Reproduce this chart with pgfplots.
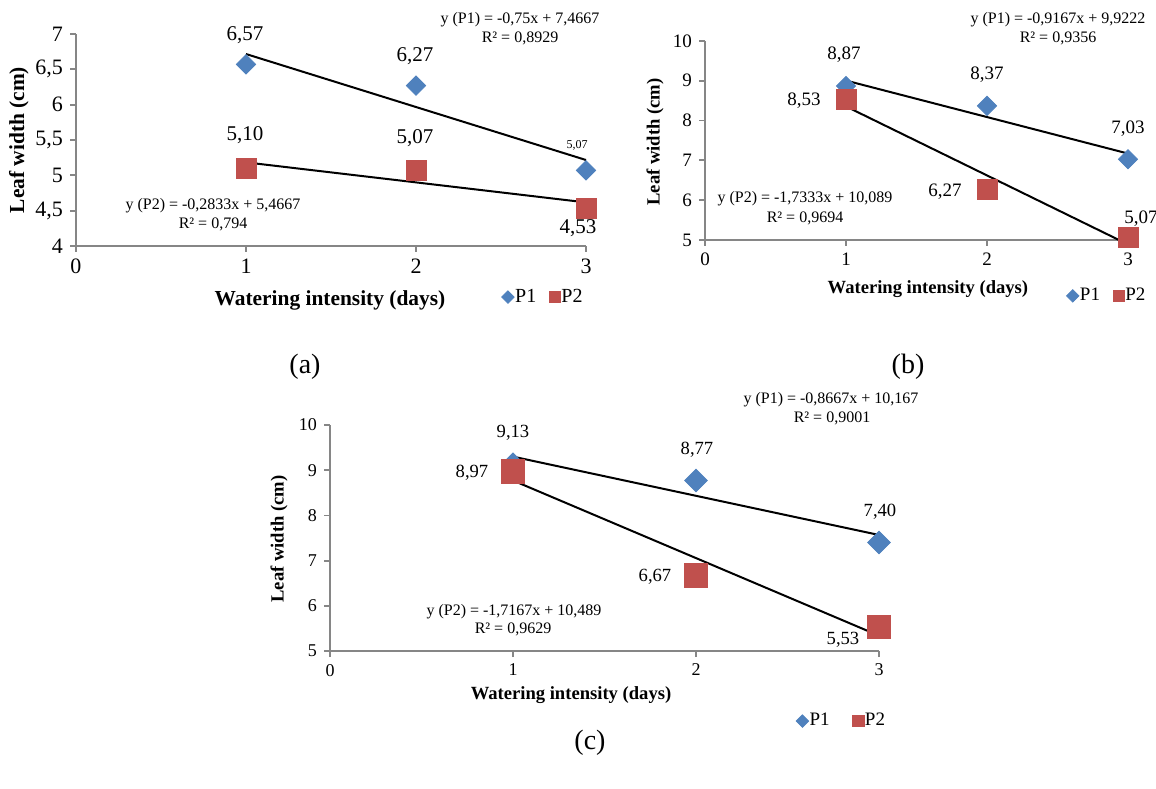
\documentclass[border=0pt]{standalone}
\usepackage{pgfplots}
\pgfplotsset{compat=1.18}
\usepackage{fontspec}
\setmainfont{Liberation Serif}

\definecolor{pone}{HTML}{4F81BD}
\definecolor{ptwo}{HTML}{C0504D}
\definecolor{axgray}{HTML}{868686}

\pgfplotsset{
  panel/.style={
    scale only axis,
    anchor=south west,
    axis lines*=left,
    axis line style={axgray, line width=0.9pt},
    tick style={axgray, line width=0.9pt},
    tick align=outside,
    major tick length=3pt,
    xmin=0, xmax=3, xtick={0,1,2,3}, xticklabels={0,1,2,3},
    clip=false,
    legend columns=2,
    legend cell align=left,
    legend style={draw=none, fill=none, inner sep=0pt,
      nodes={inner sep=0.5pt}},
    legend image code/.code={\draw[##1] plot coordinates {(0pt,0pt)};},
    xlabel={Watering intensity (days)},
    ylabel={Leaf width (cm)},
  },
  p1/.style={only marks, mark=square*, color=pone,
    mark options={rotate=45, fill=pone, draw=pone},
    legend image post style={mark size=2.2pt}},
  p2/.style={only marks, mark=square*, color=ptwo,
    mark options={fill=ptwo, draw=ptwo},
    legend image post style={mark size=2.8pt}},
  trend/.style={black, line width=1pt, forget plot},
}

\begin{document}
\begin{tikzpicture}[x=0.5pt, y=0.5pt]
\useasboundingbox (0,0) rectangle (1156,788);

% (a)
\begin{axis}[panel,
  at={(38pt,271pt)}, width=255pt, height=106pt,
  ymin=4, ymax=7, ytick={4,4.5,5,5.5,6,6.5,7},
  yticklabels={4,{4,5},5,{5,5},6,{6,5},7},
  tick label style={font=\fontsize{11}{13}\selectfont},
  xlabel style={font=\fontsize{10.7}{13}\selectfont\bfseries, at={(axis description cs:0.498,-0.255)}, anchor=center},
  ylabel style={font=\fontsize{10.7}{13}\selectfont\bfseries, at={(axis description cs:-0.112,0.5)}, anchor=center},
  legend style={font=\fontsize{10}{12}\selectfont, at={(axis description cs:0.915,-0.241)}, anchor=center,
    /tikz/every even column/.append style={column sep=6pt}},
]
\addplot[p1, mark size=3.4pt] coordinates {(1,6.57) (2,6.27) (3,5.07)};
\addplot[p2, mark size=5pt] coordinates {(1,5.10) (2,5.07) (3,4.53)};
\addplot[trend] coordinates {(1,6.7167) (3,5.2167)};
\addplot[trend] coordinates {(1,5.1834) (3,4.6168)};
\legend{P1,P2}
\end{axis}

% (b)
\begin{axis}[panel,
  at={(352.5pt,274pt)}, width=211.5pt, height=99.5pt,
  ymin=5, ymax=10, ytick={5,6,7,8,9,10},
  yticklabels={5,6,7,8,9,10},
  tick label style={font=\fontsize{9.5}{11}\selectfont},
  xlabel style={font=\fontsize{9.3}{11}\selectfont\bfseries, at={(axis description cs:0.527,-0.246)}, anchor=center},
  ylabel style={font=\fontsize{9.3}{11}\selectfont\bfseries, at={(axis description cs:-0.118,0.492)}, anchor=center},
  legend style={font=\fontsize{9.5}{11}\selectfont, at={(axis description cs:0.949,-0.281)}, anchor=center,
    /tikz/every even column/.append style={column sep=6pt}},
]
\addplot[p1, mark size=3.4pt] coordinates {(1,8.87) (2,8.37) (3,7.03)};
\addplot[p2, mark size=5pt] coordinates {(1,8.53) (2,6.27) (3,5.07)};
\addplot[trend] coordinates {(1,9.0055) (3,7.1721)};
\addplot[trend] coordinates {(1,8.3557) (2.936,5)};
\legend{P1,P2}
\end{axis}

% (c)
\begin{axis}[panel,
  at={(165pt,68.5pt)}, width=274.5pt, height=113pt,
  ymin=5, ymax=10, ytick={5,6,7,8,9,10},
  yticklabels={5,6,7,8,9,10},
  tick label style={font=\fontsize{9}{11}\selectfont},
  xlabel style={font=\fontsize{9.3}{11}\selectfont\bfseries, at={(axis description cs:0.439,-0.195)}, anchor=center},
  ylabel style={font=\fontsize{9.3}{11}\selectfont\bfseries, at={(axis description cs:-0.093,0.496)}, anchor=center},
  legend style={font=\fontsize{9.5}{11}\selectfont, at={(axis description cs:0.931,-0.310)}, anchor=center,
    /tikz/every even column/.append style={column sep=11pt}},
]
\addplot[p1, mark size=4pt] coordinates {(1,9.13) (2,8.77) (3,7.40)};
\addplot[p2, mark size=5.9pt] coordinates {(1,8.97) (2,6.67) (3,5.53)};
\addplot[trend] coordinates {(1,9.3003) (3,7.5669)};
\addplot[trend] coordinates {(1,8.7723) (3,5.3389)};
\legend{P1,P2}
\end{axis}

% value labels and trendline equations
\begin{scope}[every node/.style={inner sep=0pt, anchor=center}]
\begin{scope}[font=\fontsize{10.5}{12}\selectfont]
\node at (245,753) {6,57};
\node at (415,732) {6,27};
\node at (245,653) {5,10};
\node at (415,650) {5,07};
\node at (578,560) {4,53};
\end{scope}
\node[font=\fontsize{6}{7}\selectfont] at (577,643) {5,07};
\begin{scope}[font=\fontsize{9.5}{11}\selectfont]
\node at (844,733) {8,87};
\node at (987,713) {8,37};
\node at (1128,659) {7,03};
\node at (804,687) {8,53};
\node at (945,596) {6,27};
\node at (1141,569) {5,07};
\end{scope}
\begin{scope}[font=\fontsize{9.3}{11}\selectfont]
\node at (513,355) {9,13};
\node at (697,338) {8,77};
\node at (880,276) {7,40};
\node at (472,315) {8,97};
\node at (655,211) {6,67};
\node at (843,148) {5,53};
\end{scope}
\begin{scope}[font=\fontsize{8}{9}\selectfont]
\node at (520,768) {y (P1) = -0,75x + 7,4667};
\node at (520,750) {R² = 0,8929};
\node at (213,582) {y (P2) = -0,2833x + 5,4667};
\node at (213,564) {R² = 0,794};
\node at (1058,768) {y (P1) = -0,9167x + 9,9222};
\node at (1058,750) {R² = 0,9356};
\node at (805,589) {y (P2) = -1,7333x + 10,089};
\node at (805,570) {R² = 0,9694};
\node at (831,388) {y (P1) = -0,8667x + 10,167};
\node at (832,370) {R² = 0,9001};
\node at (514,176) {y (P2) = -1,7167x + 10,489};
\node at (513,159) {R² = 0,9629};
\end{scope}
\begin{scope}[font=\fontsize{14}{16}\selectfont]
\node at (305,421) {(a)};
\node at (908,421) {(b)};
\node at (590,45) {(c)};
\end{scope}
\end{scope}
\end{tikzpicture}
\end{document}
